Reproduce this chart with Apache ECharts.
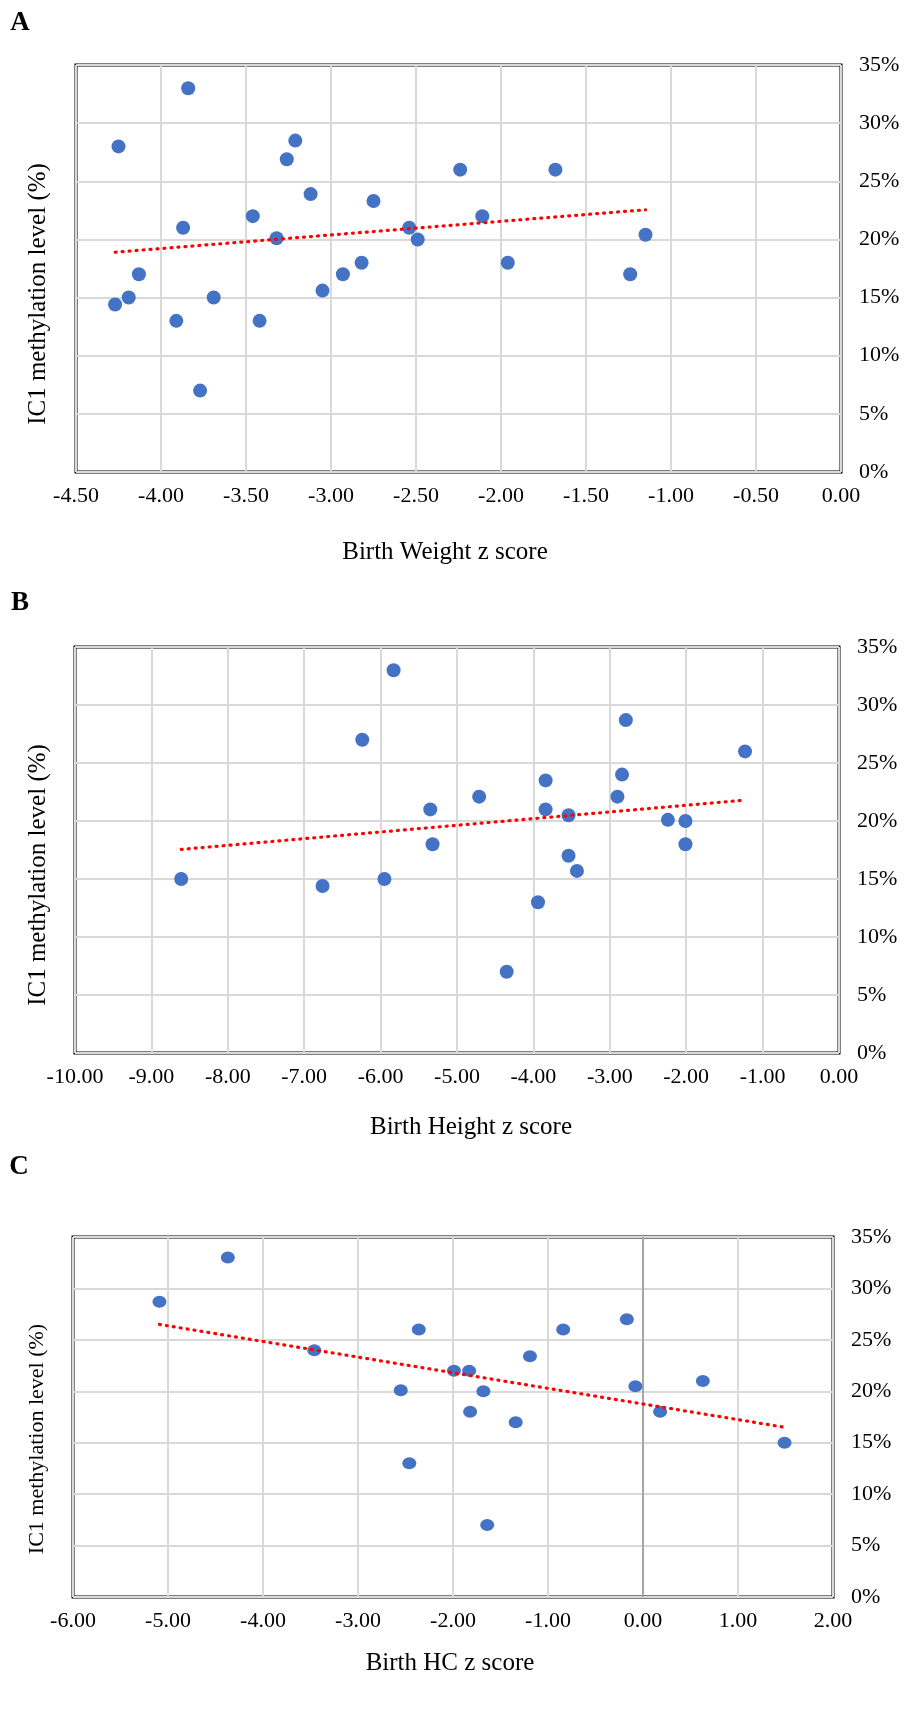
<!DOCTYPE html>
<html>
<head>
<meta charset="utf-8">
<script src="https://cdn.jsdelivr.net/npm/echarts@6/dist/echarts.min.js"></script>
<style>
  body { margin: 0; background: #fff; }
  #chart { width: 904px; height: 1734px; }
</style>
</head>
<body>
<div id="chart"></div>
<script>
// A - birth weight z score vs IC1 methylation (%)
const weightZ = [-3.84, -4.25, -3.21, -3.26, -3.12, -2.75, -3.46, -3.87, -3.32, -2.54, -2.49, -4.13, -2.82, -2.93,
  -3.05, -4.19, -3.69, -4.27, -3.91, -3.42, -3.77, -2.24, -1.68, -2.11, -1.15, -1.96, -1.24];
const weightIC1 = [33, 28, 28.5, 26.9, 23.9, 23.3, 22, 21, 20.1, 21, 20, 17, 18, 17,
  15.6, 15, 15, 14.4, 13, 13, 7, 26, 26, 22, 20.4, 18, 17];
const weightTrend = [[-4.27, 18.9], [-1.15, 22.55]];

// B - birth height z score
const heightZ = [-5.83, -6.24, -5.35, -5.32, -8.61, -6.76, -5.95, -4.71, -3.84, -3.84, -3.54,
  -3.54, -3.43, -3.94, -4.35, -2.79, -2.84, -2.90, -1.23, -2.24, -2.01, -2.01];
const heightIC1 = [33, 27, 21, 18, 15, 14.4, 15, 22.1, 23.5, 21, 20.5,
  17, 15.7, 13, 7, 28.7, 24, 22.1, 26, 20.1, 20, 18];
const heightTrend = [[-8.61, 17.55], [-1.23, 21.8]];

// C - birth head circumference z score
const hcZ = [-4.37, -5.09, -3.46, -2.36, -2.55, -2.46, -1.99, -1.83, -1.68, -1.82,
  -1.34, -1.64, -1.19, -0.84, -0.17, -0.08, 0.18, 0.63, 1.49];
const hcIC1 = [33, 28.7, 24, 26, 20.1, 13, 22, 22, 20, 18,
  17, 7, 23.4, 26, 27, 20.5, 18, 21, 15];
const hcTrend = [[-5.09, 26.5], [1.49, 16.5]];

const yTicks = { min: 0, max: 35, interval: 5 };

const serif = "'Liberation Serif', 'Times New Roman', serif";
const gridColor = '#D9D9D9';

const pairs = (xs, ys) => xs.map((x, i) => [x, ys[i]]);

function xAxisFor(idx, min, max, interval) {
  return {
    type: 'value', gridIndex: idx, min: min, max: max, interval: interval,
    axisLine: { show: false }, axisTick: { show: false },
    axisLabel: { margin: 13, color: '#000', fontFamily: serif, fontSize: 22,
      formatter: v => v.toFixed(2) },
    splitLine: { show: true, lineStyle: { color: gridColor, width: 2 } }
  };
}

function yAxisFor(idx) {
  return {
    type: 'value', gridIndex: idx, position: 'right',
    min: yTicks.min, max: yTicks.max, interval: yTicks.interval,
    axisLine: { show: false }, axisTick: { show: false },
    axisLabel: { margin: 18, color: '#000', fontFamily: serif, fontSize: 22, formatter: '{value}%' },
    splitLine: { show: true, lineStyle: { color: gridColor, width: 2 } }
  };
}

function dots(idx, xs, ys, size) {
  return {
    type: 'scatter', xAxisIndex: idx, yAxisIndex: idx, data: pairs(xs, ys),
    symbolSize: size, itemStyle: { color: '#4472C4', opacity: 1 }, z: 3
  };
}

function trend(idx, pts) {
  return {
    type: 'line', xAxisIndex: idx, yAxisIndex: idx, data: pts, symbol: 'none',
    lineStyle: { color: '#FF0000', width: 3.2, type: [1, 6], cap: 'round' }, z: 4
  };
}

function label(text, x, y, size, bold) {
  return {
    type: 'text', x: x, y: y,
    style: { text: text, x: 0, y: 0, fill: '#000', align: 'center', verticalAlign: 'middle',
      font: (bold ? 'bold ' : '') + size + 'px ' + serif }
  };
}

function vlabel(text, x, y, size) {
  const t = label(text, x, y, size, false);
  t.rotation = Math.PI / 2;
  return t;
}

const chart = echarts.init(document.getElementById('chart'));
chart.setOption({
  backgroundColor: '#fff',
  animation: false,
  grid: [
    { left: 76, top: 65, width: 765, height: 407, show: true, borderColor: '#000', borderWidth: 3 },
    { left: 75, top: 647, width: 764, height: 406, show: true, borderColor: '#000', borderWidth: 3 },
    { left: 73, top: 1237, width: 760, height: 360, show: true, borderColor: '#000', borderWidth: 3 }
  ],
  xAxis: [xAxisFor(0, -4.5, 0, 0.5), xAxisFor(1, -10, 0, 1), xAxisFor(2, -6, 2, 1)],
  yAxis: [yAxisFor(0), yAxisFor(1), yAxisFor(2)],
  series: [
    dots(0, weightZ, weightIC1, 14),
    trend(0, weightTrend),
    dots(1, heightZ, heightIC1, 14),
    trend(1, heightTrend),
    Object.assign(dots(2, hcZ, hcIC1, [14, 12]), {
      markLine: {
        silent: true, symbol: 'none', label: { show: false },
        lineStyle: { color: '#A6A6A6', width: 2, type: 'solid' },
        data: [{ xAxis: 0 }], z: 1
      }
    }),
    trend(2, hcTrend)
  ],
  graphic: [
    label('A', 20, 23, 27, true),
    label('B', 20, 603, 27, true),
    label('C', 19, 1167, 27, true),
    vlabel('IC1 methylation level (%)', 38, 294, 25),
    vlabel('IC1 methylation level (%)', 38, 875, 25),
    vlabel('IC1 methylation level (%)', 37, 1439, 22),
    label('Birth Weight z score', 445, 552, 25, false),
    label('Birth Height z score', 471, 1127, 25, false),
    label('Birth HC z score', 450, 1663, 25, false)
  ]
});
</script>
</body>
</html>
